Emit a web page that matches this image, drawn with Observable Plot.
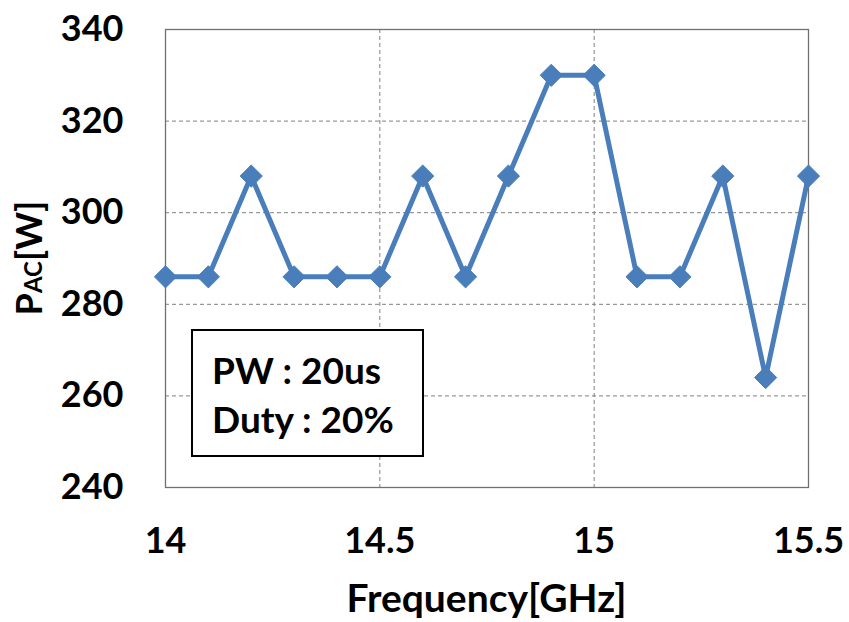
<!DOCTYPE html>
<html>
<head>
<meta charset="utf-8">
<script src="https://cdn.jsdelivr.net/npm/d3@7"></script>
<script src="https://cdn.jsdelivr.net/npm/@observablehq/plot@0.6"></script>
<style>
  html, body { margin: 0; padding: 0; background: #fff; }
  #chart svg { display: block; }
</style>
</head>
<body>
<div id="chart"></div>
<script>
const frequency = [14.0, 14.1, 14.2, 14.3, 14.4, 14.5, 14.6, 14.7, 14.8, 14.9, 15.0, 15.1, 15.2, 15.3, 15.4, 15.5];
const power = [286, 286, 308, 286, 286, 286, 308, 286, 308, 330, 330, 286, 286, 308, 264, 308];
const xTicks = [14, 14.5, 15, 15.5];
const yTicks = [240, 260, 280, 300, 320, 340];
const xLabel = "Frequency[GHz]";
const legendLines = ["PW : 20us", "Duty : 20%"];

const data = frequency.map((f, i) => ({f, p: power[i]}));
const FONT = "Lato, 'Open Sans', sans-serif";
const blue = "#4A7EBB";

const plot = Plot.plot({
  width: 849,
  height: 622,
  marginLeft: 165,
  marginRight: 41,
  marginTop: 29,
  marginBottom: 135,
  style: {fontFamily: FONT, fontWeight: "bold", fontSize: "36px", color: "#000", background: "#fff"},
  x: {domain: [14, 15.5], ticks: xTicks, tickSize: 0, tickPadding: 40, label: null, tickFormat: d => String(d)},
  y: {domain: [240, 340], ticks: yTicks, tickSize: 0, tickPadding: 42, label: null},
  marks: [
    Plot.gridY(yTicks.filter(d => d > 240 && d < 340), {stroke: "#808080", strokeOpacity: 1, strokeWidth: 1, strokeDasharray: "4,3"}),
    Plot.gridX(xTicks.filter(d => d > 14 && d < 15.5), {stroke: "#808080", strokeOpacity: 1, strokeWidth: 1, strokeDasharray: "4,3"}),
    Plot.frame({stroke: "#707070", strokeWidth: 1.3}),
    Plot.axisX({ticks: xTicks, tickSize: 0, tickPadding: 40, fontSize: 36, fontWeight: "bold", tickFormat: d => String(d), label: null}),
    Plot.axisY({ticks: yTicks, tickSize: 0, tickPadding: 42, fontSize: 36, fontWeight: "bold", label: null}),
    Plot.line(data, {x: "f", y: "p", stroke: blue, strokeWidth: 5}),
    Plot.dot(data, {x: "f", y: "p", symbol: "diamond2", r: 10, fill: blue, stroke: blue, strokeWidth: 1})
  ]
});

document.getElementById("chart").appendChild(plot);

const svg = d3.select(plot);
const xs = plot.scale("x"), ys = plot.scale("y");
const x0 = xs.range[0], x1 = xs.range[1];
const yTop = ys.apply(340), yBot = ys.apply(240);

// Legend box
const g = svg.append("g");
g.append("rect").attr("x", 192).attr("y", 330).attr("width", 231).attr("height", 126)
  .attr("fill", "#fff").attr("stroke", "#000").attr("stroke-width", 2);
legendLines.forEach((t, i) => {
  g.append("text").attr("x", 212).attr("y", 384 + i * 49).attr("text-anchor", "start")
    .attr("font-family", FONT).attr("font-weight", "bold").attr("font-size", 37).attr("fill", "#000")
    .text(t);
});

// X axis label
svg.append("text").attr("x", (x0 + x1) / 2).attr("y", 612).attr("text-anchor", "middle")
  .attr("font-family", FONT).attr("font-weight", "bold").attr("font-size", 39).attr("fill", "#000")
  .text(xLabel);

// Y axis label with subscript
const yl = svg.append("text").attr("transform", `translate(42,${(yTop + yBot) / 2}) rotate(-90)`)
  .attr("text-anchor", "middle")
  .attr("font-family", FONT).attr("font-weight", "bold").attr("font-size", 36).attr("fill", "#000");
yl.append("tspan").text("P");
yl.append("tspan").attr("font-size", 24).text("AC");
yl.append("tspan").text("[W]");
</script>
</body>
</html>
